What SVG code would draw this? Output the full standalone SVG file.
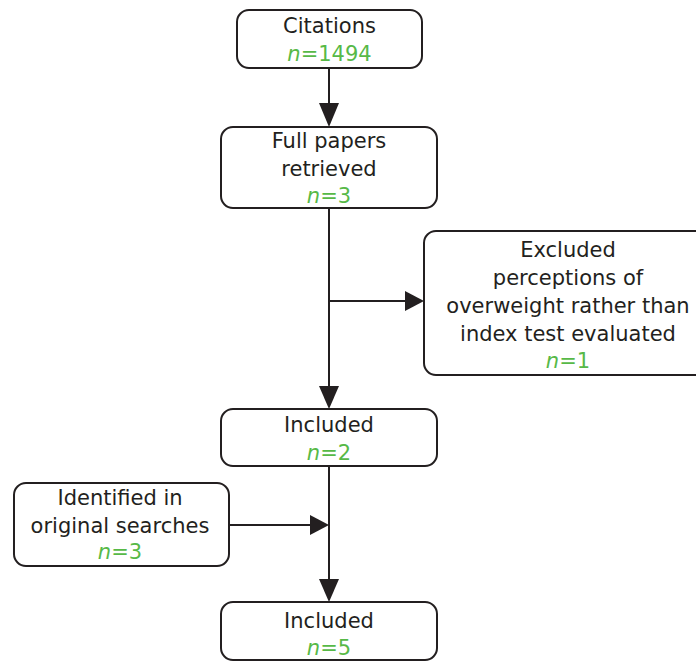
<svg xmlns="http://www.w3.org/2000/svg" width="696" height="662" viewBox="0 0 696 662">
<style>
.box{fill:#fff;stroke:#231f20;stroke-width:2}
text{font-family:"DejaVu Sans","Open Sans",sans-serif;font-size:21px;fill:#231f20;text-anchor:middle}
.g{fill:#57b947}
.i{font-style:italic}
.c{stroke:#231f20;stroke-width:2;fill:none}
.ah{fill:#231f20}
</style>
<rect width="696" height="662" fill="#fff"/>
<g id="connectors">
<line class="c" x1="329" y1="68" x2="329" y2="104"/>
<path class="ah" d="M319,103 L339,103 L329,127 Z"/>
<line class="c" x1="329" y1="208" x2="329" y2="387"/>
<path class="ah" d="M319,386 L339,386 L329,409 Z"/>
<line class="c" x1="329" y1="301" x2="407" y2="301"/>
<path class="ah" d="M405,291 L405,311 L424,301 Z"/>
<line class="c" x1="329" y1="466" x2="329" y2="580"/>
<path class="ah" d="M319,579 L339,579 L329,602 Z"/>
<line class="c" x1="229" y1="525" x2="313" y2="525"/>
<path class="ah" d="M310,515 L310,535 L329,525 Z"/>
</g>
<g id="citations">
<rect class="box" x="237" y="10" width="185" height="58" rx="12"/>
<text x="329.5" y="33">Citations</text>
<text x="329.5" y="61" class="g"><tspan class="i">n</tspan>=1494</text>
</g>
<g id="full-papers">
<rect class="box" x="221" y="127" width="216" height="81" rx="12"/>
<text x="329" y="148">Full papers</text>
<text x="329" y="176">retrieved</text>
<text x="329" y="203" class="g"><tspan class="i">n</tspan>=3</text>
</g>
<g id="excluded">
<rect class="box" x="424" y="231" width="290" height="144" rx="12"/>
<text x="568" y="257">Excluded</text>
<text x="568" y="285">perceptions of</text>
<text x="568" y="313">overweight rather than</text>
<text x="568" y="341">index test evaluated</text>
<text x="568" y="368" class="g"><tspan class="i">n</tspan>=1</text>
</g>
<g id="included-1">
<rect class="box" x="221" y="409" width="216" height="57" rx="12"/>
<text x="329" y="432">Included</text>
<text x="329" y="460" class="g"><tspan class="i">n</tspan>=2</text>
</g>
<g id="identified">
<rect class="box" x="14" y="483" width="215" height="83" rx="12"/>
<text x="120" y="505">Identified in</text>
<text x="120" y="533">original searches</text>
<text x="120" y="559" class="g"><tspan class="i">n</tspan>=3</text>
</g>
<g id="included-2">
<rect class="box" x="221" y="602" width="216" height="58" rx="12"/>
<text x="329" y="628">Included</text>
<text x="329" y="655" class="g"><tspan class="i">n</tspan>=5</text>
</g>
</svg>
